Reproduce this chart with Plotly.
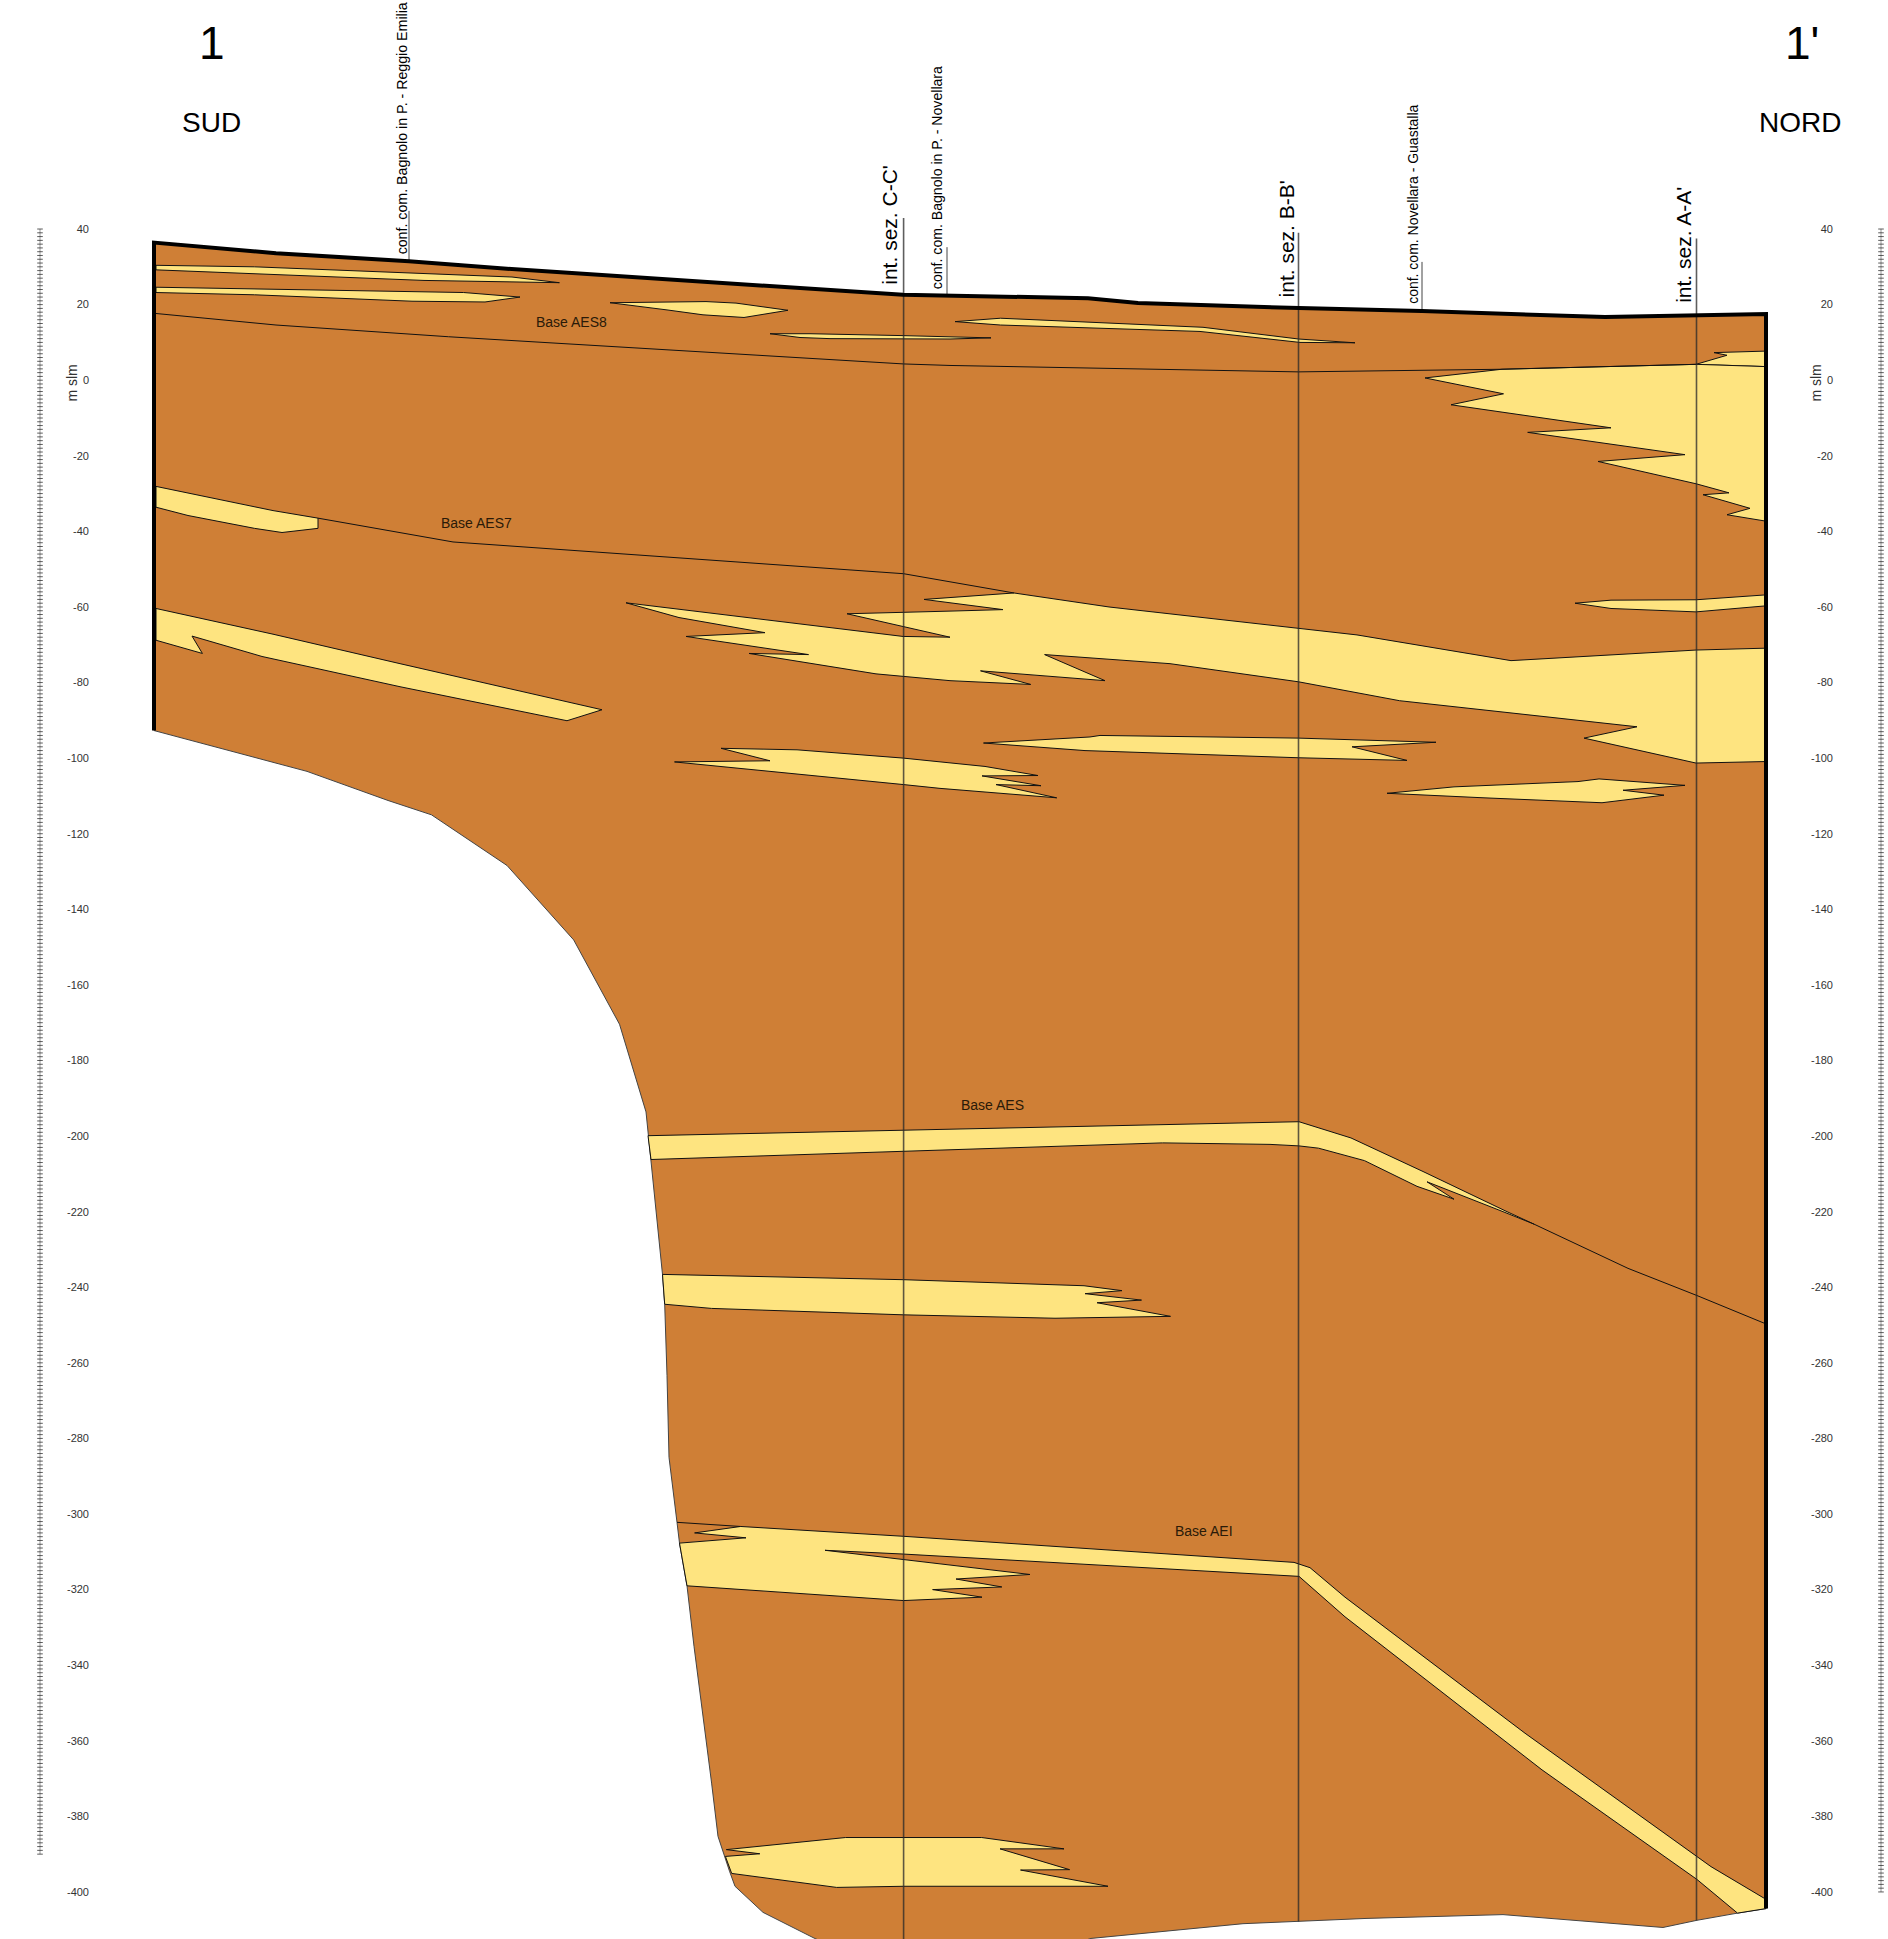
import plotly.graph_objects as go

# Section geometry: X = distance along the section (page-scale units), Y = metres above sea level
TICKS = list(range(40, -401, -20))
TICK_LABELS = [str(t) for t in TICKS]

TOP_X = [154, 276, 409, 507, 903, 1088, 1138, 1299, 1422, 1605, 1766]
TOP_Y = [36.4, 33.6, 31.5, 29.5, 22.6, 21.7, 20.4, 19.1, 18.3, 16.7, 17.5]
BOTTOM_X = [1766, 1737.5, 1697, 1663, 1503, 1367, 1299, 1243, 1091, 1000, 880, 814, 763, 735, 729.5, 718, 711.6,
            694, 687, 679.5, 677, 669, 667, 664.7, 662.5, 651, 648, 646, 619.5, 573.7, 507, 431.5, 388, 307, 154]
BOTTOM_Y = [-404.4, -405.6, -407.5, -409.4, -406, -407, -407.8, -408.4, -412.3, -420, -420, -412.2, -405.4, -398.5,
            -394.5, -385.3, -371.2, -335, -319, -307.7, -302.2, -285, -263.3, -244.5, -236.6, -206.3, -199.7, -193.6,
            -170.4, -148.1, -128.4, -115, -111.2, -103.5, -92.7]

L1_X = [156, 254.5, 512, 559.4, 424, 254.5, 156]
L1_Y = [30.4, 30, 27.3, 25.8, 26.4, 28.1, 29.2]
L2_X = [156, 254.5, 463.6, 520, 485, 412, 254.5, 156]
L2_Y = [24.6, 24.1, 23.2, 22, 20.7, 20.9, 22.6, 23.2]
L3_X = [610, 706, 736, 788, 744, 703, 667]
L3_Y = [20.5, 20.8, 20.4, 18.5, 16.6, 17.3, 18.6]
L4_X = [770, 810, 903, 991, 950, 830, 800]
L4_Y = [12.3, 12.3, 11.8, 11.2, 10.9, 11, 11.3]
L5_X = [955, 1000.5, 1203, 1298.5, 1355, 1300, 1200, 1049, 1000.5]
L5_Y = [15.5, 16.4, 14, 10.9, 9.9, 10, 12.9, 14.2, 14.6]
L6_X = [1696, 1727, 1714, 1766, 1766]
L6_Y = [4.2, 6.6, 7.3, 7.7, 3.6]
L7_X = [1425, 1502, 1696, 1766, 1766, 1727, 1750, 1726, 1703, 1729, 1696, 1598, 1685, 1527.7, 1611, 1451, 1503.5]
L7_Y = [0.6, 2.9, 4.2, 3.6, -37.3, -35.6, -33.9, -32, -30.3, -29.8, -27.4, -21.5, -19.7, -13.8, -12.6, -6.5, -3.6]
L8_X = [156, 273, 318, 318, 282, 254.5, 188, 156]
L8_Y = [-28.1, -34.5, -36.5, -39.2, -40.3, -39.2, -35.8, -33.6]
L9_X = [156, 273, 400, 602, 567, 400, 262, 212, 192, 202.4, 156]
L9_Y = [-60.4, -67.2, -75, -87.2, -90.1, -81.1, -73.1, -69.3, -67.7, -72.3, -68.8]
L10_X = [626, 903, 950, 847, 950, 1003, 924, 1014, 1109, 1298.5, 1357, 1511, 1696, 1766, 1766, 1696, 1584, 1637,
         1399.5, 1298.5, 1170, 1044.6, 1105, 980.5, 1030.7, 950, 876, 749, 808.5, 686, 765, 679]
L10_Y = [-58.9, -67.8, -68, -61.8, -61.1, -60.7, -58, -56.3, -60, -65.7, -67.4, -74.2, -71.4, -70.9, -100.9, -101.3,
         -94.7, -91.7, -84.8, -79.8, -75, -72.6, -79.5, -76.9, -80.5, -79.5, -77.7, -72.3, -72.6, -67.8, -66.8, -62.8]
L11_X = [1575, 1611, 1696, 1766, 1766, 1696, 1611]
L11_Y = [-59, -58.2, -58.1, -56.8, -59.7, -61.3, -60.4]
L12_X = [721, 797, 903.6, 985, 1038, 982, 1041, 996, 1056.7, 940, 903.6, 674.5, 770]
L12_Y = [-97.4, -97.8, -100, -102.2, -104.6, -104.7, -107.3, -107, -110.5, -108, -107, -101, -100.7]
L13_X = [983.5, 1090, 1100, 1298.5, 1436, 1352, 1407, 1298.5, 1085]
L13_Y = [-96, -94.4, -94, -94.7, -95.8, -97, -100.6, -99.9, -98]
L14_X = [1387, 1454, 1578, 1599, 1685, 1623, 1664, 1602, 1484]
L14_Y = [-109.3, -107.6, -106.2, -105.5, -107.2, -108.5, -109.8, -111.8, -110.5]
L15_X = [648, 903.6, 1180, 1299, 1351, 1424, 1507, 1534, 1503, 1427, 1454, 1417, 1364.5, 1318.5, 1299, 1270, 1162.5, 903.6, 651]
L15_Y = [-199.9, -198.5, -197, -196.2, -200.5, -209.5, -220, -223.3, -220, -212.1, -216.7, -213.3, -206.5, -203.2,
         -202.6, -202.2, -201.8, -204, -206.2]
L16_X = [662.5, 903.6, 1084, 1122, 1085, 1141.5, 1097, 1170.5, 1055, 903.6, 711.6, 664.7]
L16_Y = [-236.6, -238, -239.6, -240.9, -241.7, -243.4, -244.1, -247.7, -248.2, -247.3, -245.6, -244.5]
L17_X = [740.6, 694.6, 746, 679.5, 687, 903.6, 982, 932.6, 1001.8, 956, 1030, 903.6, 825, 903.6, 1299, 1345, 1542, 1697,
         1737.5, 1766, 1765, 1711, 1525, 1345, 1310, 1294, 903.6]
L17_Y = [-303.3, -305, -306.3, -307.7, -319, -322.9, -322, -320, -319.3, -317.2, -316, -312, -309.6, -310.6, -316.5,
         -327.2, -367.7, -396.7, -405.6, -404.4, -401.8, -393.3, -358, -322, -314.2, -312.8, -305.9]
L18_X = [845.5, 981.7, 1064, 1000, 1069.6, 1020.5, 1108, 903.6, 836.6, 731.7, 725.4, 759.8, 726.3]
L18_Y = [-385.6, -385.6, -388.6, -388.6, -394.1, -394.2, -398.5, -398.5, -398.8, -395.1, -390.6, -389.9, -388.8]

AES8_X = [154, 276, 448.5, 903.6, 950, 1298.5, 1502, 1696]
AES8_Y = [17.7, 14.6, 11.5, 4.3, 3.9, 2.2, 2.9, 4.2]
AES7_X = [318, 453, 903.6, 950, 1014]
AES7_Y = [-36.5, -42.8, -51.2, -53.4, -56.3]
AES_X = [1534, 1628, 1697, 1765]
AES_Y = [-223.3, -235, -242.2, -249.6]
AEI_X = [677, 740.6]
AEI_Y = [-302.2, -303.3]

SECTIONS_X = [903.6, 1298.5, 1696.5]
SECTIONS_TOP = [42.9, 39, 37.5]
SECTIONS_BOTTOM = [-420, -407.8, -407.5]
CONF_X = [409, 947, 1422]
CONF_TOP = [44.8, 35.2, 31.3]
CONF_BOTTOM = [31.5, 22.5, 18.3]

RULER_LEFT = list(range(40, -391, -1))
RULER_RIGHT = list(range(40, -401, -1))

BROWN = "#CF7F36"
YELLOW = "#FEE480"

fig = go.Figure()
outline_x = TOP_X + BOTTOM_X
outline_y = TOP_Y + BOTTOM_Y
fig.add_trace(go.Scatter(x=outline_x + outline_x[:1], y=outline_y + outline_y[:1], mode="lines", fill="toself",
                         fillcolor=BROWN, line=dict(color="#444444", width=1)))

lenses = [(L1_X, L1_Y), (L2_X, L2_Y), (L3_X, L3_Y), (L4_X, L4_Y), (L5_X, L5_Y), (L6_X, L6_Y), (L7_X, L7_Y),
          (L8_X, L8_Y), (L9_X, L9_Y), (L10_X, L10_Y), (L11_X, L11_Y), (L12_X, L12_Y), (L13_X, L13_Y),
          (L14_X, L14_Y), (L15_X, L15_Y), (L16_X, L16_Y), (L17_X, L17_Y), (L18_X, L18_Y)]
for lx, ly in lenses:
    fig.add_trace(go.Scatter(x=lx + lx[:1], y=ly + ly[:1], mode="lines", fill="toself", fillcolor=YELLOW,
                             line=dict(color="#111111", width=1)))

for lx, ly in [(AES8_X, AES8_Y), (AES7_X, AES7_Y), (AES_X, AES_Y), (AEI_X, AEI_Y)]:
    fig.add_trace(go.Scatter(x=lx, y=ly, mode="lines", line=dict(color="#111111", width=1)))

for x, t, b in zip(SECTIONS_X, SECTIONS_TOP, SECTIONS_BOTTOM):
    fig.add_trace(go.Scatter(x=[x, x], y=[t, b], mode="lines", line=dict(color="rgba(40,40,40,0.75)", width=1.6)))
for x, t, b in zip(CONF_X, CONF_TOP, CONF_BOTTOM):
    fig.add_trace(go.Scatter(x=[x, x], y=[t, b], mode="lines", line=dict(color="#444444", width=1)))

# thick surface and end walls
fig.add_trace(go.Scatter(x=[BOTTOM_X[-1]] + TOP_X + [BOTTOM_X[0]], y=[BOTTOM_Y[-1]] + TOP_Y + [BOTTOM_Y[0]], mode="lines",
                         line=dict(color="#000000", width=4)))

# rulers
ruler_marker = dict(symbol="line-ew", size=4, line=dict(color="#333333", width=0.8))
fig.add_trace(go.Scatter(x=[40] * len(RULER_LEFT), y=RULER_LEFT, mode="lines+markers",
                         line=dict(color="#999999", width=1), marker=ruler_marker))
fig.add_trace(go.Scatter(x=[1881] * len(RULER_RIGHT), y=RULER_RIGHT, yaxis="y2", mode="lines+markers",
                         line=dict(color="#999999", width=1), marker=ruler_marker))

Y_RANGE = [-412.45, 100.6]
tick_font = dict(family="Liberation Sans", size=11, color="#333333")
yaxis_common = dict(range=Y_RANGE, anchor="free", side="left", tickmode="array", tickvals=TICKS, ticktext=TICK_LABELS,
                    ticks="", showline=False, showgrid=False, zeroline=False, tickfont=tick_font)

def note(text, x, y, size, angle=0, yanchor="middle", xanchor="center", color="#000000"):
    return dict(text=text, x=x, y=y, xref="x", yref="y", showarrow=False, textangle=angle, xanchor=xanchor,
                yanchor=yanchor, borderpad=0, font=dict(family="Liberation Sans", size=size, color=color))

annotations = [
    note("1", 212, 89.2, 46), note("1'", 1802, 89.2, 46),
    note("SUD", 211, 68.3, 28), note("NORD", 1800, 68.3, 28),
    note("conf. com. Bagnolo in P. - Reggio Emilia", 401.5, 32.9, 14.2, -90, "bottom"),
    note("int. sez. C-C'", 890, 25, 21, -90, "bottom"),
    note("conf. com. Bagnolo in P. - Novellara", 937, 23.7, 14.1, -90, "bottom"),
    note("int. sez. B-B'", 1286, 21.5, 21, -90, "bottom"),
    note("conf. com. Novellara - Guastalla", 1413, 19.8, 14, -90, "bottom"),
    note("int. sez. A-A'", 1684, 20.2, 21, -90, "bottom"),
    note("m slm", 72, -0.9, 14, -90, color="#333333"), note("m slm", 1816, -0.9, 14, -90, color="#333333"),
    note("Base AES8", 571, 15.5, 14, color="#2a1a08"), note("Base AES7", 476, -37.8, 14, color="#2a1a08"),
    note("Base AES", 992, -191.9, 14, color="#2a1a08"), note("Base AEI", 1204, -304.4, 14, color="#2a1a08"),
]

fig.update_layout(
    width=1888, height=1939, margin=dict(l=0, r=0, t=0, b=0, pad=0), showlegend=False, hovermode=False,
    plot_bgcolor="white", paper_bgcolor="white",
    xaxis=dict(range=[0, 1888], visible=False, domain=[0, 1]),
    yaxis=dict(position=89 / 1888, **yaxis_common),
    yaxis2=dict(position=1833 / 1888, overlaying="y", **yaxis_common),
    annotations=annotations,
)
fig.write_html("out.html", post_script="document.body.style.margin='0';document.documentElement.style.overflow='hidden';",
               config={"displayModeBar": False})
